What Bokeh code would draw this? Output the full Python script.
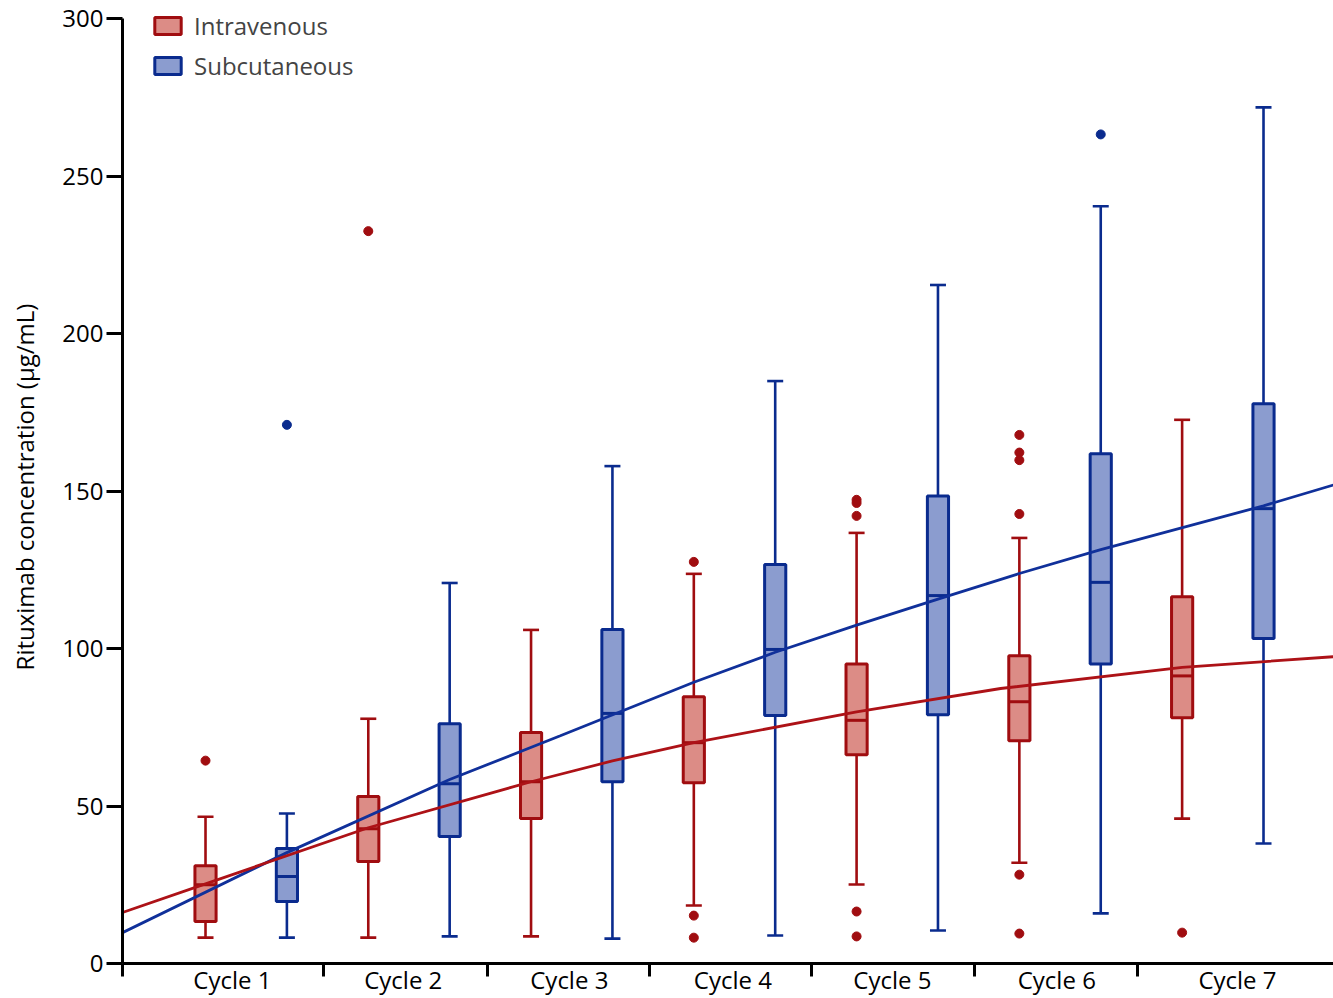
from bokeh.plotting import figure
from bokeh.models import FixedTicker, Range1d, Legend, LegendItem
from bokeh.embed import file_html
from bokeh.resources import INLINE

# ---------------- data ----------------
cycles = ["Cycle 1", "Cycle 2", "Cycle 3", "Cycle 4", "Cycle 5", "Cycle 6", "Cycle 7"]

iv_whisker_low = [8.2, 8.2, 8.6, 18.4, 25.1, 32.0, 46.0]
iv_q1 = [13.3, 32.4, 46.0, 57.4, 66.3, 70.7, 78.0]
iv_median = [25.0, 42.8, 57.7, 70.1, 77.2, 83.1, 91.3]
iv_q3 = [31.0, 53.0, 73.3, 84.7, 95.1, 97.7, 116.4]
iv_whisker_high = [46.6, 77.7, 105.9, 123.7, 136.7, 135.1, 172.6]
iv_outlier_cycle = [1, 2, 4, 4, 4, 5, 5, 5, 5, 5, 6, 6, 6, 6, 6, 6, 7]
iv_outlier_value = [64.4, 232.5, 127.5, 15.2, 8.2, 147.2, 146.2, 142.1, 16.5, 8.6,
                    167.8, 162.2, 159.8, 142.7, 28.2, 9.5, 9.8]

sc_whisker_low = [8.2, 8.6, 7.9, 8.9, 10.5, 15.9, 38.1]
sc_q1 = [19.7, 40.3, 57.7, 78.7, 79.0, 95.1, 103.2]
sc_median = [27.6, 57.1, 79.4, 99.7, 116.8, 121.0, 144.4]
sc_q3 = [36.5, 76.1, 106.0, 126.7, 148.4, 161.8, 177.7]
sc_whisker_high = [47.6, 120.8, 157.9, 184.9, 215.4, 240.4, 271.8]
sc_outlier_cycle = [1, 6]
sc_outlier_value = [171.0, 263.2]

# fitted curves, x in box-slot units (IV of cycle c at 2(c-1), SC at 2(c-1)+1)
iv_curve_x = [-1.02, 0, 2, 4, 5, 6, 8, 9.77, 12, 13.86]
iv_curve_y = [16.2, 25.3, 43.1, 57.7, 64.3, 70.1, 79.9, 87.3, 94.0, 97.4]
sc_curve_x = [-1.02, 1, 3, 4.36, 6, 7, 8, 9, 10, 11, 13, 13.86]
sc_curve_y = [9.8, 35.2, 58.4, 72.3, 89.3, 98.8, 107.4, 115.7, 123.8, 131.4, 145.3, 151.9]

y_ticks = [0, 50, 100, 150, 200, 250, 300]

# ---------------- styling ----------------
FONT = "Open Sans"
IV_LINE, IV_FILL = "#a00d10", "#dc8c86"
SC_LINE, SC_FILL = "#0a2b8e", "#8b9ccf"
IV_CURVE, SC_CURVE = "#ad1217", "#10309a"

BOX_W = 0.26
CAP_PX = 16

iv_x = [2 * i for i in range(len(cycles))]
sc_x = [2 * i + 1 for i in range(len(cycles))]
iv_out_x = [2 * (c - 1) for c in iv_outlier_cycle]
sc_out_x = [2 * (c - 1) + 1 for c in sc_outlier_cycle]

label_pos = [0.33, 2.43, 4.47, 6.48, 8.44, 10.46, 12.68]
sep_pos = [-1.02, 1.45, 3.47, 5.46, 7.45, 9.45, 11.45]

p = figure(width=1333, height=998, output_backend="svg", toolbar_location=None,
           x_range=Range1d(-1.02, 13.86), y_range=Range1d(0, 302.54),
           min_border_left=122, min_border_right=0, min_border_top=10, min_border_bottom=0)
p.background_fill_color = "white"
p.border_fill_color = "white"
p.outline_line_color = None
p.xgrid.visible = False
p.ygrid.visible = False


def draw_boxes(xs, wlo, q1, med, q3, whi, ox, oy, lc, fc):
    p.segment(x0=xs, y0=wlo, x1=xs, y1=whi, line_color=lc, line_width=2.6)
    p.scatter(x=xs, y=whi, marker="dash", size=CAP_PX, line_color=lc, line_width=2.6)
    p.scatter(x=xs, y=wlo, marker="dash", size=CAP_PX, line_color=lc, line_width=2.6)
    r = p.vbar(x=xs, bottom=q1, top=q3, width=BOX_W, fill_color=fc, line_color=lc,
               line_width=3)
    p.segment(x0=[x - BOX_W / 2 for x in xs], y0=med, x1=[x + BOX_W / 2 for x in xs], y1=med,
              line_color=lc, line_width=3)
    p.scatter(x=ox, y=oy, size=9, fill_color=lc, line_color=lc)
    return r


r_iv = draw_boxes(iv_x, iv_whisker_low, iv_q1, iv_median, iv_q3, iv_whisker_high,
                  iv_out_x, iv_outlier_value, IV_LINE, IV_FILL)
r_sc = draw_boxes(sc_x, sc_whisker_low, sc_q1, sc_median, sc_q3, sc_whisker_high,
                  sc_out_x, sc_outlier_value, SC_LINE, SC_FILL)

p.line(sc_curve_x, sc_curve_y, line_color=SC_CURVE, line_width=2.8)
p.line(iv_curve_x, iv_curve_y, line_color=IV_CURVE, line_width=2.8)

# y axis
ya = p.yaxis[0]
ya.ticker = FixedTicker(ticks=y_ticks, minor_ticks=[])
ya.bounds = (0, 300)
ya.axis_label = "Rituximab concentration (µg/mL)"
ya.axis_label_text_font = FONT
ya.axis_label_text_font_size = "24px"
ya.axis_label_text_font_style = "normal"
ya.axis_label_text_color = "black"
ya.axis_label_standoff = 18
ya.major_label_text_font = FONT
ya.major_label_text_font_size = "24px"
ya.major_label_text_color = "black"
ya.major_label_standoff = 3
ya.major_tick_out = 16
ya.major_tick_in = 0
ya.major_tick_line_width = 3
ya.axis_line_width = 3
ya.axis_line_color = "black"
ya.major_tick_line_color = "black"

# x axis
xa = p.xaxis[0]
xa.ticker = FixedTicker(ticks=label_pos, minor_ticks=sep_pos)
xa.major_label_overrides = {pos: lab for pos, lab in zip(label_pos, cycles)}
xa.major_label_text_font = FONT
xa.major_label_text_font_size = "24px"
xa.major_label_text_color = "black"
xa.major_label_standoff = -14
xa.major_tick_line_color = None
xa.major_tick_out = 0
xa.major_tick_in = 0
xa.minor_tick_out = 13
xa.minor_tick_in = 0
xa.minor_tick_line_width = 3
xa.minor_tick_line_color = "black"
xa.axis_line_width = 3
xa.axis_line_color = "black"

legend = Legend(items=[LegendItem(label="Intravenous", renderers=[r_iv]),
                       LegendItem(label="Subcutaneous", renderers=[r_sc])],
                location=(29, 881), padding=0, margin=0, spacing=7,
                glyph_width=33, glyph_height=21, label_standoff=10,
                label_text_font=FONT, label_text_font_size="24px",
                border_line_color=None, background_fill_alpha=0)
p.add_layout(legend)

open("out.html", "w").write(file_html(p, INLINE))
